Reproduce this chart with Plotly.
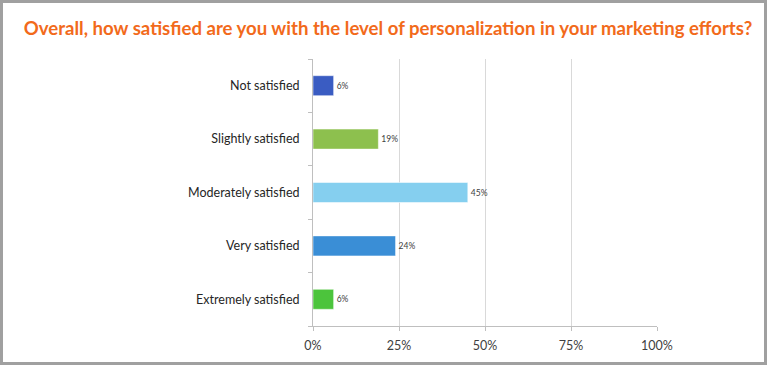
import plotly.graph_objects as go

categories = ["Not satisfied", "Slightly satisfied", "Moderately satisfied", "Very satisfied", "Extremely satisfied"]
values = [6, 19, 45, 24, 6]
labels = ["6%", "19%", "45%", "24%", "6%"]
colors = ["#3A5CC2", "#8DC04E", "#85CFEF", "#3A8ED6", "#4CC43C"]
x_ticks = [0, 25, 50, 75, 100]
x_tick_labels = ["0%", "25%", "50%", "75%", "100%"]
title_text = "Overall, how satisfied are you with the level of personalization in your marketing efforts?"

FONT = "Lato"

fig = go.Figure(go.Bar(
    y=categories,
    x=values,
    orientation="h",
    marker=dict(color=colors, line=dict(color="rgba(255,255,255,0.5)", width=1)),
    text=labels,
    textposition="outside",
    textfont=dict(size=8.5, color="#404040", family=FONT),
    cliponaxis=False,
    width=0.375,
))

L, R, T, B = 313, 111, 59, 39
W, H = 768, 365
pw, ph = W - L - R, H - T - B

def px_x(p):
    return (p - L) / pw

def px_y(p):
    return (H - B - p) / ph

fig.update_layout(
    width=W, height=H,
    margin=dict(l=L, r=R, t=T, b=B),
    paper_bgcolor="white",
    plot_bgcolor="white",
    showlegend=False,
    font=dict(family=FONT, color="#262626"),
    title=dict(
        text="<b>" + title_text + "</b>",
        x=388 / W, xref="container", xanchor="center",
        y=1 - 28 / H, yref="container", yanchor="middle",
        font=dict(size=18.6, color="#F26A1B", family=FONT),
    ),
    xaxis=dict(
        range=[0, 100],
        tickvals=x_ticks,
        ticktext=x_tick_labels,
        showgrid=True,
        gridcolor="#D9D9D9",
        gridwidth=1,
        showline=True,
        linecolor="#BFBFBF",
        ticks="outside",
        ticklen=4,
        tickcolor="#BFBFBF",
        ticklabelstandoff=4,
        tickfont=dict(size=12.5, color="#404040"),
        zeroline=False,
        fixedrange=True,
    ),
    yaxis=dict(
        categoryorder="array",
        categoryarray=categories[::-1],
        showline=True,
        linecolor="#BFBFBF",
        ticks="outside",
        tickson="boundaries",
        ticklen=4,
        tickcolor="#BFBFBF",
        ticklabelstandoff=10,
        tickfont=dict(size=12.5, color="#262626"),
        showgrid=False,
        fixedrange=True,
    ),
    shapes=[dict(
        type="rect", xref="paper", yref="paper",
        x0=px_x(1.5), x1=px_x(765.5), y0=px_y(363.5), y1=px_y(1.5),
        line=dict(color="#A0A0A0", width=3),
        fillcolor="rgba(0,0,0,0)",
        layer="above",
    )],
)

fig.write_html(
    "out.html",
    config={"displayModeBar": False},
    post_script="document.body.style.margin='0';document.body.style.overflow='hidden';",
)
